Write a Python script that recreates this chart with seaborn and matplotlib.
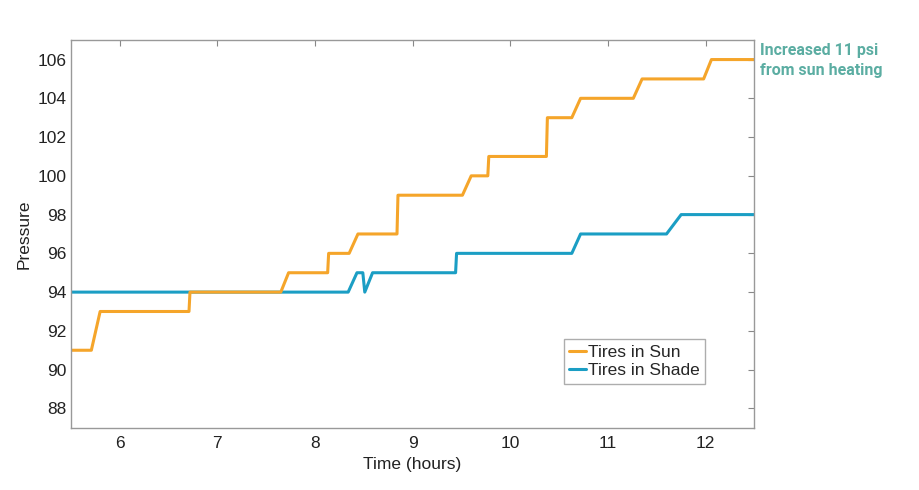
import matplotlib
matplotlib.use("Agg")
import matplotlib.pyplot as plt
import pandas as pd
import seaborn as sns

# Time (hours) and pressure (psi)
SUN_TIME = [5.5, 5.71, 5.80, 6.71, 6.72, 7.65, 7.73, 8.13, 8.14, 8.35, 8.44, 8.84, 8.85,
            9.51, 9.60, 9.77, 9.78, 10.37, 10.38, 10.63, 10.72, 11.26, 11.35, 11.98, 12.06, 12.5]
SUN_PSI = [91, 91, 93, 93, 94, 94, 95, 95, 96, 96, 97, 97, 99,
           99, 100, 100, 101, 101, 103, 103, 104, 104, 105, 105, 106, 106]

SHADE_TIME = [5.5, 8.34, 8.43, 8.49, 8.51, 8.59, 9.44, 9.45, 10.63, 10.72, 11.60, 11.75, 12.5]
SHADE_PSI = [94, 94, 95, 95, 94, 95, 95, 96, 96, 97, 97, 98, 98]

X_TICKS = [6, 7, 8, 9, 10, 11, 12]
Y_TICKS = [88, 90, 92, 94, 96, 98, 100, 102, 104, 106]

ORANGE = "#F5A52A"
BLUE = "#1B9EC4"
TEAL = "#5BADA2"


def main():
    sns.set_style("white")
    plt.rcParams["font.family"] = ["Liberation Sans", "DejaVu Sans"]

    df = pd.concat([
        pd.DataFrame({"time": SHADE_TIME, "psi": SHADE_PSI, "series": "Tires in Shade"}),
        pd.DataFrame({"time": SUN_TIME, "psi": SUN_PSI, "series": "Tires in Sun"}),
    ], ignore_index=True)

    fig = plt.figure(figsize=(9.2, 4.9), dpi=100)
    ax = fig.add_axes([0.077, 0.127, 0.743, 0.791])

    # shade first so the sun line sits on top where they overlap
    sns.lineplot(ax=ax, data=df, x="time", y="psi", hue="series", sort=False,
                 hue_order=["Tires in Shade", "Tires in Sun"],
                 palette={"Tires in Sun": ORANGE, "Tires in Shade": BLUE},
                 linewidth=2.2, estimator=None)

    ax.set_xlim(5.5, 12.5)
    ax.set_ylim(87, 107)
    ax.set_xticks(X_TICKS)
    ax.set_yticks(Y_TICKS)
    ax.tick_params(direction="in", length=4, color="#888888", top=True, right=True,
                   labelsize=12.5, labelcolor="#222222", pad=3)
    ax.tick_params(axis="x", pad=6)
    for spine in ax.spines.values():
        spine.set_color("#999999")
        spine.set_linewidth(1)
    ax.set_xlabel("Time (hours)", fontsize=12.5, color="#222222", labelpad=4)
    ax.set_ylabel("Pressure", fontsize=12.5, color="#222222", labelpad=4)

    handles, labels = ax.get_legend_handles_labels()
    leg = ax.legend(handles[::-1], labels[::-1], loc="lower left",
                    bbox_to_anchor=(0.721, 0.114), handlelength=1.0,
                    handletextpad=0.1, borderpad=0.3, labelspacing=0.2, fontsize=12.5,
                    frameon=True, fancybox=False, borderaxespad=0)
    leg.get_frame().set_edgecolor("#999999")
    leg.get_frame().set_linewidth(1)

    fig.text(0.826, 0.877, "Increased 11 psi\nfrom sun heating", color=TEAL,
             fontsize=11.5, fontweight="bold", va="center", ha="left",
             family=["Roboto", "DejaVu Sans"], linespacing=1.45)

    plt.savefig("out.png", dpi=100)
    plt.close()


if __name__ == "__main__":
    main()
